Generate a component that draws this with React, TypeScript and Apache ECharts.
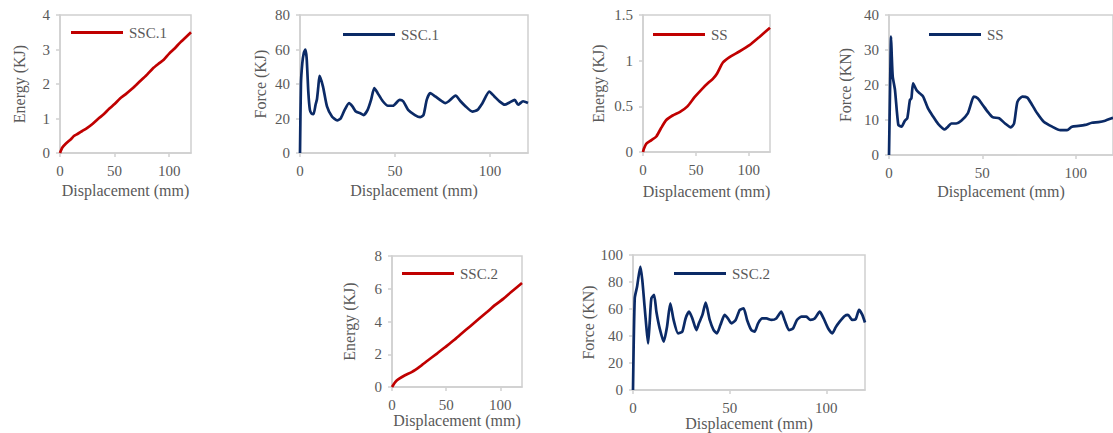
import React, { useEffect, useRef } from "react";
import * as echarts from "echarts";

// ---------- data (displacement mm, value) ----------
const energySSC1: [number, number][] = [
  [0, 0], [2, 0.15], [5, 0.26], [10, 0.4], [13, 0.5], [16, 0.55], [20, 0.63], [25, 0.73], [30, 0.85],
  [36, 1.02], [40, 1.12], [45, 1.28], [50, 1.42], [55, 1.58], [60, 1.7], [66, 1.86], [70, 1.98],
  [75, 2.13], [80, 2.28], [85, 2.45], [90, 2.58], [95, 2.7], [100, 2.88], [105, 3.03], [110, 3.2],
  [115, 3.35], [120, 3.5],
];

const forceSSC1: [number, number][] = [
  [0, 0], [0.5, 40], [1.2, 52], [2, 58], [2.8, 60], [3.5, 55], [4.4, 35], [5.2, 25], [6, 23], [7.1, 22.5],
  [8.2, 28], [8.9, 31], [9.6, 38], [10.3, 44.7], [12.1, 38.5], [14.2, 27], [16.9, 21], [19.6, 18.9],
  [21.4, 20], [23.5, 25], [25.8, 28.9], [27.6, 27], [29.4, 24], [31.7, 23], [33.5, 22], [35.6, 25],
  [37.4, 30.8], [39.1, 37.6], [40.9, 34.7], [43.6, 30], [46.3, 27.4], [48.9, 27.4], [52.5, 30.8],
  [54.3, 30], [56.9, 25], [60.5, 22], [63.2, 20.8], [65, 22], [66.7, 30.8], [68.5, 34.7], [71.2, 32.8],
  [74.7, 30], [76.5, 28.9], [78.3, 30], [81.9, 33.3], [84.5, 30], [87.2, 27], [90.7, 24], [93.4, 25],
  [96, 28.9], [99.6, 35.6], [102.3, 32.8], [104.9, 30], [107.7, 28], [110.3, 29.3], [113, 30.8],
  [114.8, 28], [117.4, 30], [120, 29],
];

const energySS: [number, number][] = [
  [0, 0], [1, 0.04], [3, 0.09], [8, 0.13], [12.6, 0.17], [17, 0.26], [22, 0.35], [28, 0.4], [35, 0.44],
  [42, 0.5], [48.7, 0.6], [56.6, 0.7], [62, 0.76], [66, 0.8], [70, 0.86], [75.5, 0.98], [81.8, 1.04],
  [91, 1.1], [100.6, 1.17], [110, 1.26], [120, 1.36],
];

const forceSS: [number, number][] = [
  [0, 0], [0.6, 20], [1.1, 33.8], [1.5, 28], [2, 22.4], [3.2, 18.6], [5, 8.6], [6.7, 8.1], [8.5, 9.8],
  [9.8, 10.5], [11.2, 15.7], [12, 16.2], [12.9, 20.5], [14.7, 18.6], [16.5, 17.6], [18.3, 16.7],
  [20.9, 13.3], [23.6, 11], [26.3, 8.9], [29.8, 7.3], [31.6, 8.1], [33.3, 9], [36, 9], [38.7, 9.8],
  [42.2, 11.9], [44, 14.8], [45.4, 16.7], [47.5, 16.2], [50.2, 14.3], [52.8, 12.4], [55.5, 10.8],
  [59, 10.5], [62.2, 9], [65.2, 7.9], [67, 9], [68.8, 15.2], [71.4, 16.7], [74.1, 16.4], [76.7, 14.3],
  [79.4, 11.9], [82.9, 9.5], [87.4, 8.1], [91.8, 7.1], [95.4, 7.1], [98, 8.1], [101.6, 8.3],
  [105.1, 8.6], [108.7, 9.2], [112.2, 9.4], [115.8, 9.8], [119.3, 10.5], [120, 10.6],
];

const energySSC2: [number, number][] = [
  [0, 0], [3, 0.3], [6, 0.48], [12, 0.72], [18.5, 0.92], [26, 1.26], [33, 1.62], [41.5, 2.04],
  [49, 2.43], [57, 2.85], [64, 3.25], [72, 3.7], [80, 4.15], [87.7, 4.58], [95, 5.0], [103, 5.4],
  [110, 5.8], [120, 6.35],
];

const forceSSC2: [number, number][] = [
  [0, 0], [0.9, 68], [2.1, 76.5], [3.8, 91.4], [4.8, 81.5], [6, 61.7], [6.9, 46.9], [7.8, 34.6],
  [8.6, 49.4], [9.5, 67.9], [10.9, 70.4], [12.1, 58], [13.8, 45.7], [15.9, 35.8], [17.6, 46.9],
  [19.3, 64.2], [21, 51.9], [23.3, 42], [25.5, 43.2], [27.2, 53], [29, 58], [30.7, 53], [32.8, 44.4],
  [34.1, 49.4], [35.9, 55.6], [37.6, 64.7], [39.7, 51.9], [41.7, 44.4], [43.4, 42], [45.2, 48.1],
  [47.4, 55.6], [49.1, 53], [50.9, 49.4], [53.1, 51.9], [55.2, 59.3], [57.2, 60.5], [59, 51.9],
  [61.2, 44.4], [62.9, 43.2], [64.7, 49.4], [66.9, 53], [69, 53], [71.6, 51.9], [74.1, 53], [76.7, 58],
  [78.4, 51.9], [80.7, 44.4], [82.8, 45.7], [84.8, 51.9], [87.1, 54.3], [89.7, 54.3], [91.7, 51.9],
  [94, 53], [96.6, 58], [98.6, 53], [100.9, 45.7], [103.1, 42], [104.8, 46.4], [106.9, 50.6],
  [109.5, 54.8], [111.2, 55.6], [113.4, 51.9], [115.2, 52.5], [116.9, 59.3], [118.5, 56], [120, 50],
];

const xName = "Displacement (mm)";
const xMax = 120;
const xInterval = 50;

// ---------- layout / style config ----------
const RED = "#c00000";
const NAVY = "#0b2a66";
const TEXT = "#595959";
const AXIS = "#d0d0d0";
const FONT = "Liberation Serif";

type Spec = {
  name: string;
  data: [number, number][];
  color: string;
  yMax: number;
  yInterval: number;
  yName: string;
  grid: { left: number; top: number; width: number; height: number };
  yNameGap: number;
  xNameGap: number;
  legend: { left: number; top: number };
};

const specs: Spec[] = [
  { name: "SSC.1", data: energySSC1, color: RED, yMax: 4, yInterval: 1, yName: "Energy (KJ)",
    grid: { left: 60, top: 15, width: 131, height: 138 }, yNameGap: 33, xNameGap: 29, legend: { left: 71, top: 25 } },
  { name: "SSC.1", data: forceSSC1, color: NAVY, yMax: 80, yInterval: 20, yName: "Force (KJ)",
    grid: { left: 300, top: 15, width: 228, height: 138 }, yNameGap: 32, xNameGap: 29, legend: { left: 343, top: 27 } },
  { name: "SS", data: energySS, color: RED, yMax: 1.5, yInterval: 0.5, yName: "Energy (KJ)",
    grid: { left: 643, top: 15, width: 127, height: 137 }, yNameGap: 37, xNameGap: 31, legend: { left: 653, top: 27 } },
  { name: "SS", data: forceSS, color: NAVY, yMax: 40, yInterval: 10, yName: "Force (KN)",
    grid: { left: 889, top: 15, width: 226, height: 140 }, yNameGap: 36, xNameGap: 28, legend: { left: 929, top: 27 } },
  { name: "SSC.2", data: energySSC2, color: RED, yMax: 8, yInterval: 2, yName: "Energy (KJ)",
    grid: { left: 392, top: 256, width: 130, height: 131 }, yNameGap: 35, xNameGap: 24, legend: { left: 402, top: 266 } },
  { name: "SSC.2", data: forceSSC2, color: NAVY, yMax: 100, yInterval: 20, yName: "Force (KN)",
    grid: { left: 633, top: 255, width: 232, height: 135 }, yNameGap: 34, xNameGap: 24, legend: { left: 674, top: 266 } },
];

function buildOption(s: Spec): echarts.EChartsOption {
  return {
    animation: false,
    textStyle: { fontFamily: FONT, color: TEXT },
    grid: { ...s.grid, show: true, borderColor: AXIS, borderWidth: 1.5, backgroundColor: "transparent" },
    legend: {
      left: s.legend.left,
      top: s.legend.top,
      padding: 0,
      icon: "rect",
      itemWidth: 52,
      itemHeight: 3,
      itemGap: 6,
      data: [{ name: s.name, icon: "rect", itemStyle: { color: s.color } }],
      textStyle: { fontFamily: FONT, fontSize: 15, color: TEXT, padding: [0, 0, 0, 1] },
    },
    xAxis: {
      type: "value",
      min: 0,
      max: xMax,
      interval: xInterval,
      name: xName,
      nameLocation: "middle",
      nameGap: s.xNameGap,
      nameTextStyle: { fontFamily: FONT, fontSize: 16, color: TEXT },
      axisLine: { show: true, lineStyle: { color: AXIS, width: 1.5 } },
      axisTick: { show: true, length: 4, lineStyle: { color: AXIS, width: 1.5 } },
      axisLabel: { fontFamily: FONT, fontSize: 15, color: TEXT, margin: 10, showMaxLabel: false },
      splitLine: { show: false },
    },
    yAxis: {
      type: "value",
      min: 0,
      max: s.yMax,
      interval: s.yInterval,
      name: s.yName,
      nameLocation: "middle",
      nameGap: s.yNameGap,
      nameTextStyle: { fontFamily: FONT, fontSize: 16, color: TEXT },
      axisLine: { show: true, lineStyle: { color: AXIS, width: 1.5 } },
      axisTick: { show: true, length: 4, lineStyle: { color: AXIS, width: 1.5 } },
      axisLabel: { fontFamily: FONT, fontSize: 15, color: TEXT, margin: 10 },
      splitLine: { show: false },
    },
    series: [
      {
        type: "line",
        name: s.name,
        data: s.data,
        symbol: "none",
        showSymbol: false,
        smooth: 0.2,
        color: s.color,
        lineStyle: { color: s.color, width: 2.7 },
      },
    ],
  };
}

function Panel({ spec }: { spec: Spec }) {
  const ref = useRef<HTMLDivElement>(null);
  useEffect(() => {
    if (!ref.current) return;
    const chart = echarts.init(ref.current, undefined, { renderer: "svg" });
    chart.setOption(buildOption(spec));
    return () => chart.dispose();
  }, [spec]);
  return (
    <div
      ref={ref}
      style={{ position: "absolute", left: 0, top: 0, width: 1113, height: 433 }}
    />
  );
}

export default function App() {
  return (
    <div
      style={{
        position: "fixed",
        left: 0,
        top: 0,
        width: 1113,
        height: 433,
        background: "#ffffff",
        overflow: "hidden",
      }}
    >
      {specs.map((s, i) => (
        <Panel key={i} spec={s} />
      ))}
    </div>
  );
}
